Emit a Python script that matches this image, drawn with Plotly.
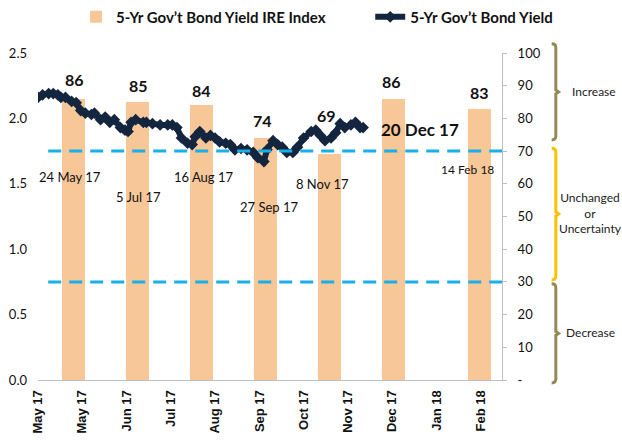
import plotly.graph_objects as go

# ---------------- data ----------------
bar_dates = ["2017-05-24", "2017-07-05", "2017-08-16", "2017-09-27",
             "2017-11-08", "2017-12-20", "2018-02-14"]
bar_labels = ["24 May 17", "5 Jul 17", "16 Aug 17", "27 Sep 17",
              "8 Nov 17", "20 Dec 17", "14 Feb 18"]
ire_index = [86, 85, 84, 74, 69, 86, 83]

yield_dates = [
    "2017-05-01", "2017-05-04", "2017-05-08", "2017-05-11", "2017-05-14", "2017-05-16",
    "2017-05-19", "2017-05-23", "2017-05-26", "2017-05-29", "2017-06-01", "2017-06-05",
    "2017-06-07", "2017-06-11", "2017-06-14", "2017-06-17", "2017-06-20", "2017-06-24",
    "2017-06-27", "2017-06-29", "2017-07-01", "2017-07-04", "2017-07-09", "2017-07-11",
    "2017-07-15", "2017-07-20", "2017-07-25", "2017-07-28", "2017-07-31", "2017-08-03",
    "2017-08-07", "2017-08-10", "2017-08-12", "2017-08-15", "2017-08-19", "2017-08-22",
    "2017-08-25", "2017-08-28", "2017-09-01", "2017-09-04", "2017-09-07", "2017-09-11",
    "2017-09-15", "2017-09-19", "2017-09-22", "2017-09-26", "2017-09-28", "2017-10-02",
    "2017-10-05", "2017-10-08", "2017-10-11", "2017-10-15", "2017-10-18", "2017-10-22",
    "2017-10-27", "2017-10-30", "2017-11-02", "2017-11-05", "2017-11-09", "2017-11-12",
    "2017-11-15", "2017-11-18", "2017-11-22", "2017-11-25", "2017-11-28", "2017-11-30",
]
yield_values = [
    2.16, 2.18, 2.19, 2.19, 2.18, 2.16,
    2.16, 2.13, 2.12, 2.06, 2.04, 2.03,
    2.04, 1.99, 2.01, 1.97, 1.99, 1.93,
    1.91, 1.90, 1.97, 1.99, 1.97, 1.97,
    1.96, 1.95, 1.95, 1.95, 1.93, 1.85,
    1.81, 1.80, 1.86, 1.90, 1.85, 1.87,
    1.85, 1.82, 1.81, 1.80, 1.76, 1.77,
    1.76, 1.74, 1.70, 1.67, 1.76, 1.83,
    1.80, 1.78, 1.74, 1.74, 1.78, 1.85,
    1.90, 1.91, 1.87, 1.83, 1.85, 1.89,
    1.96, 1.93, 1.95, 1.97, 1.93, 1.93,
]

x_tick_dates = ["2017-05-01", "2017-05-30", "2017-06-28", "2017-07-27", "2017-08-25",
                "2017-09-23", "2017-10-22", "2017-11-20", "2017-12-19", "2018-01-17",
                "2018-02-15"]
x_tick_text = ["May 17", "May 17", "Jun 17", "Jul 17", "Aug 17", "Sep 17",
               "Oct 17", "Nov 17", "Dec 17", "Jan 18", "Feb 18"]

left_ticks = [0.0, 0.5, 1.0, 1.5, 2.0, 2.5]
right_ticks = [0, 10, 20, 30, 40, 50, 60, 70, 80, 90, 100]
right_tick_text = ["-", "10", "20", "30", "40", "50", "60", "70", "80", "90", "100"]

threshold_levels = [70, 30]

# ---------------- styling / layout helpers ----------------
NAVY = "#14263F"
PEACH = "#F8C798"
CYAN = "#19AFE8"
OLIVE = "#948A54"
GOLD = "#FFC000"
FONT = "Lato"

# per-label placement (layout only)
num_xshift = [1, 1, 0, -3, -3, -2, 0]
num_yshift = [19, 17, 15, 18, 39, 17, 16]
date_xshift = [-3, 1, 2, 4, -7, 26, -12]
date_yval = [62, 56, 62, 53, 60, 76.5, 64.5]
date_size = [13, 13, 13, 13, 13, 17, 12]
date_bold = [False, False, False, False, False, True, False]

fig = go.Figure()

fig.add_trace(go.Bar(
    x=bar_dates, y=ire_index, yaxis="y",
    name="5-Yr Gov\u2019t Bond Yield IRE Index",
    marker=dict(color=PEACH, line=dict(width=0)),
    width=15 * 86400000,
    legend="legend",
))

fig.add_trace(go.Scatter(
    x=yield_dates, y=yield_values, yaxis="y2",
    name="5-Yr Gov\u2019t Bond Yield",
    mode="lines+markers",
    line=dict(color=NAVY, width=6),
    marker=dict(symbol="diamond", size=9, color=NAVY),
    legend="legend2",
))

annotations = []
for d, v, dx, dy in zip(bar_dates, ire_index, num_xshift, num_yshift):
    annotations.append(dict(
        x=d, y=v, xref="x", yref="y", text=str(v), showarrow=False,
        xshift=dx, yshift=dy, yanchor="middle",
        font=dict(family=FONT, size=16, color="#111111", weight="bold"),
    ))
for d, t, dx, yv, sz, b in zip(bar_dates, bar_labels, date_xshift, date_yval, date_size, date_bold):
    annotations.append(dict(
        x=d, y=yv, xref="x", yref="y", text=t, showarrow=False,
        xshift=dx, yanchor="middle",
        font=dict(family=FONT, size=sz, color="#111111", weight="bold" if b else "normal"),
    ))

# right-side category notes
note_font = dict(family=FONT, size=12, color="#222222")
annotations += [
    dict(x=1.198, y=0.881, xref="paper", yref="paper", text="Increase", showarrow=False,
         xanchor="center", yanchor="middle", font=note_font),
    dict(x=1.19, y=0.511, xref="paper", yref="paper", text="Unchanged<br>or<br>Uncertainty",
         showarrow=False, xanchor="center", yanchor="middle", font=note_font),
    dict(x=1.19, y=0.144, xref="paper", yref="paper", text="Decrease", showarrow=False,
         xanchor="center", yanchor="middle", font=note_font),
]

shapes = []
for lvl in threshold_levels:
    shapes.append(dict(type="line", xref="paper", yref="y", x0=0.022, x1=1.0, y0=lvl, y1=lvl,
                       line=dict(color=CYAN, width=3, dash="13px,8px")))

def brace(x, y0, y1, color):
    hx = 0.009
    hy = 0.012
    ym = (y0 + y1) / 2
    path = (f"M {x-hx},{y1} Q {x},{y1} {x},{y1-hy} L {x},{ym+0.006} L {x+0.006},{ym} "
            f"L {x},{ym-0.006} L {x},{y0+hy} Q {x},{y0} {x-hx},{y0}")
    return dict(type="path", xref="paper", yref="paper", path=path,
                line=dict(color=color, width=3))

shapes.append(brace(1.116, 0.734, 1.028, OLIVE))
shapes.append(brace(1.116, 0.306, 0.709, GOLD))
shapes.append(brace(1.116, -0.009, 0.294, OLIVE))

legend_font = dict(family=FONT, size=15, color="#111111", weight="bold")

fig.update_layout(
    width=622, height=444,
    margin=dict(l=38, r=120, t=53, b=64, autoexpand=False),
    paper_bgcolor="white", plot_bgcolor="white",
    showlegend=True,
    legend=dict(orientation="h", x=0.082, y=1.11, xanchor="left", yanchor="middle",
                font=legend_font, bgcolor="rgba(0,0,0,0)"),
    legend2=dict(orientation="h", x=0.716, y=1.11, xanchor="left", yanchor="middle",
                 font=legend_font, bgcolor="rgba(0,0,0,0)"),
    bargap=0,
    xaxis=dict(type="date", range=["2017-05-01", "2018-03-01"],
               tickvals=x_tick_dates, ticktext=x_tick_text, tickangle=-90,
               tickfont=dict(family="Liberation Sans", size=13, color="#111111", weight="bold"),
               showline=True, linecolor="#BFBFBF", linewidth=1, showgrid=False,
               ticks="", zeroline=False, ticklabelstandoff=4),
    yaxis=dict(side="right", range=[0, 100], tickvals=right_ticks, ticktext=right_tick_text,
               showline=True, linecolor="#BFBFBF", linewidth=1, ticks="outside",
               ticklen=4, tickcolor="#BFBFBF", showgrid=False, zeroline=False,
               tickfont=dict(family=FONT, size=13, color="#111111"), ticklabelstandoff=8),
    yaxis2=dict(side="left", overlaying="y", range=[0, 2.5], tickvals=left_ticks,
                tickformat=".1f", showline=False, showgrid=False, zeroline=False,
                tickfont=dict(family=FONT, size=13, color="#111111"), ticklabelstandoff=10),
    annotations=annotations,
    shapes=shapes,
)

fig.write_html("out.html")
